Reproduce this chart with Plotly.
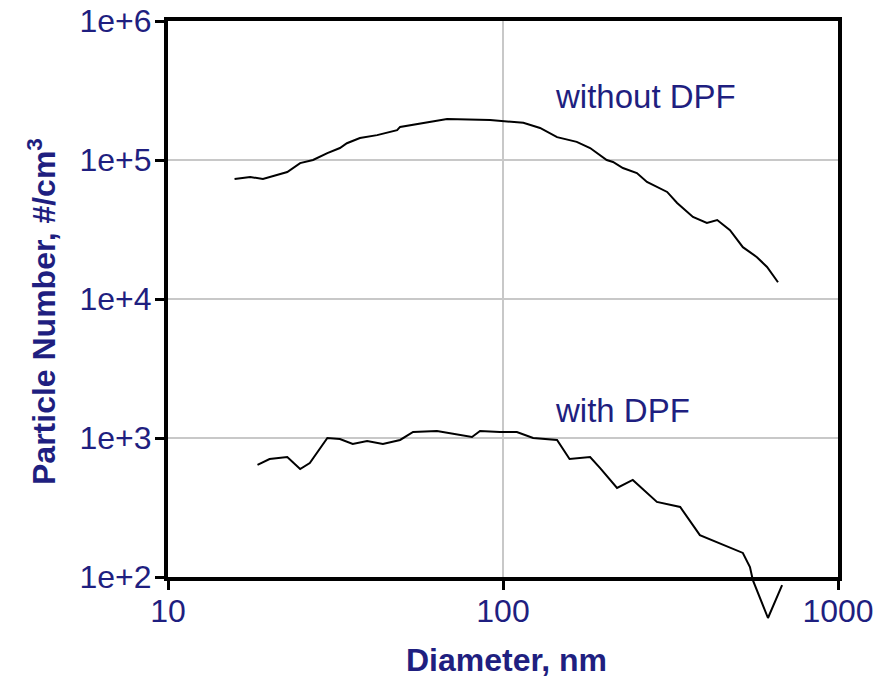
import plotly.graph_objects as go

# ---- data ----
diam_without = [15.8, 17.6, 19.2, 22.7, 24.8, 27.1, 29.9, 32.6, 34.2, 37.4, 42.1, 48.3, 49.3,
                59.3, 68.1, 91.5, 115, 129, 145, 166, 182, 204, 213, 228, 251, 269, 309, 331,
                369, 406, 436, 476, 520, 573, 614, 662]
num_without = [73000, 75500, 73000, 82000, 95000, 100000, 112000, 122000, 132000, 144000, 151000,
               164000, 173000, 187000, 197000, 194000, 185000, 170000, 146000, 135000, 122000,
               100000, 96800, 87600, 80500, 69500, 58900, 49100, 38900, 35200, 37000, 31300,
               23600, 20000, 17000, 13200]

diam_with = [18.5, 20.1, 22.7, 24.8, 26.5, 27.9, 29.9, 32.6, 35.6, 39.3, 43.8, 49.3, 53.9, 63.5,
             69.5, 80.8, 85.4, 97.9, 110, 123, 145, 158, 182, 195, 219, 244, 288, 338, 387, 454,
             520, 546, 557, 618, 681]
num_with = [640, 706, 730, 598, 661, 792, 1000, 984, 906, 951, 906, 968, 1105, 1122, 1086, 1017,
            1122, 1105, 1105, 1000, 968, 706, 730, 608, 437, 499, 347, 319, 200, 170, 149, 118,
            95, 50.7, 87.5]

x_tickvals = [10, 100, 1000]
x_ticktext = ["10", "100", "1000"]
y_tickvals = [1e2, 1e3, 1e4, 1e5, 1e6]
y_ticktext = ["1e+2", "1e+3", "1e+4", "1e+5", "1e+6"]

NAVY = "#1f1f80"
FONT = "Liberation Sans, Arial, sans-serif"

# ---- layout geometry ----
W, H = 878, 677
ML, MR, MT, MB = 168, 40, 21, 40
plot_w = W - ML - MR
plot_h = H - MT - MB            # 616
main_bottom_px = 60             # extra room below the main axis (for the dip)
y_dom0 = main_bottom_px / plot_h
px_per_dec = (plot_h - main_bottom_px) / 4.0
y2_low = 6 - plot_h / px_per_dec


def px_x(p):
    return (p - ML) / plot_w


def px_y(p):
    return (H - MB - p) / plot_h


fig = go.Figure()

fig.add_trace(go.Scatter(x=diam_without, y=num_without, mode="lines",
                         line=dict(color="black", width=2), showlegend=False,
                         xaxis="x", yaxis="y"))
fig.add_trace(go.Scatter(x=diam_with, y=num_with, mode="lines",
                         line=dict(color="black", width=2), showlegend=False,
                         xaxis="x2", yaxis="y2"))

axis_common = dict(showline=True, linecolor="black", linewidth=4, mirror=True,
                   ticks="outside", ticklen=9, tickwidth=3, tickcolor="black",
                   showgrid=True, gridcolor="#c8c8c8", gridwidth=1.5, zeroline=False,
                   automargin=False,
                   tickfont=dict(family=FONT, size=32, color=NAVY))

fig.update_layout(
    width=W, height=H,
    margin=dict(l=ML, r=MR, t=MT, b=MB),
    paper_bgcolor="white", plot_bgcolor="rgba(0,0,0,0)",
    xaxis=dict(type="log", range=[1, 3], domain=[0, 1], anchor="y",
               tickvals=x_tickvals, ticktext=x_ticktext, ticklabelstandoff=-6,
               **axis_common),
    yaxis=dict(type="log", range=[2, 6], domain=[y_dom0, 1], anchor="x",
               tickvals=y_tickvals, ticktext=y_ticktext, ticklabelstandoff=-3,
               **axis_common),
    xaxis2=dict(type="log", range=[1, 3], domain=[0, 1], anchor="y2", visible=False),
    yaxis2=dict(type="log", range=[y2_low, 6], domain=[0, 1], anchor="x2", visible=False),
    annotations=[
        dict(text="without DPF", xref="paper", yref="paper",
             x=px_x(553), y=px_y(97),
             xanchor="left", yanchor="middle", showarrow=False,
             font=dict(family=FONT, size=33, color=NAVY)),
        dict(text="with DPF", xref="paper", yref="paper",
             x=px_x(553), y=px_y(410),
             xanchor="left", yanchor="middle", showarrow=False,
             font=dict(family=FONT, size=33, color=NAVY)),
        dict(text="<b>Diameter, nm</b>", xref="paper", yref="paper",
             x=px_x(507), y=px_y(660), xanchor="center", yanchor="middle",
             showarrow=False, font=dict(family=FONT, size=32, color=NAVY)),
        dict(text="<b>Particle Number, #/cm<sup>3</sup></b>", xref="paper", yref="paper",
             x=px_x(42), y=px_y(312), xanchor="center", yanchor="middle",
             textangle=-90, showarrow=False, font=dict(family=FONT, size=32, color=NAVY)),
    ],
)

fig.write_html(
    "out.html",
    config={"displayModeBar": False},
    post_script="document.body.style.margin='0';document.body.style.overflow='hidden';",
)
